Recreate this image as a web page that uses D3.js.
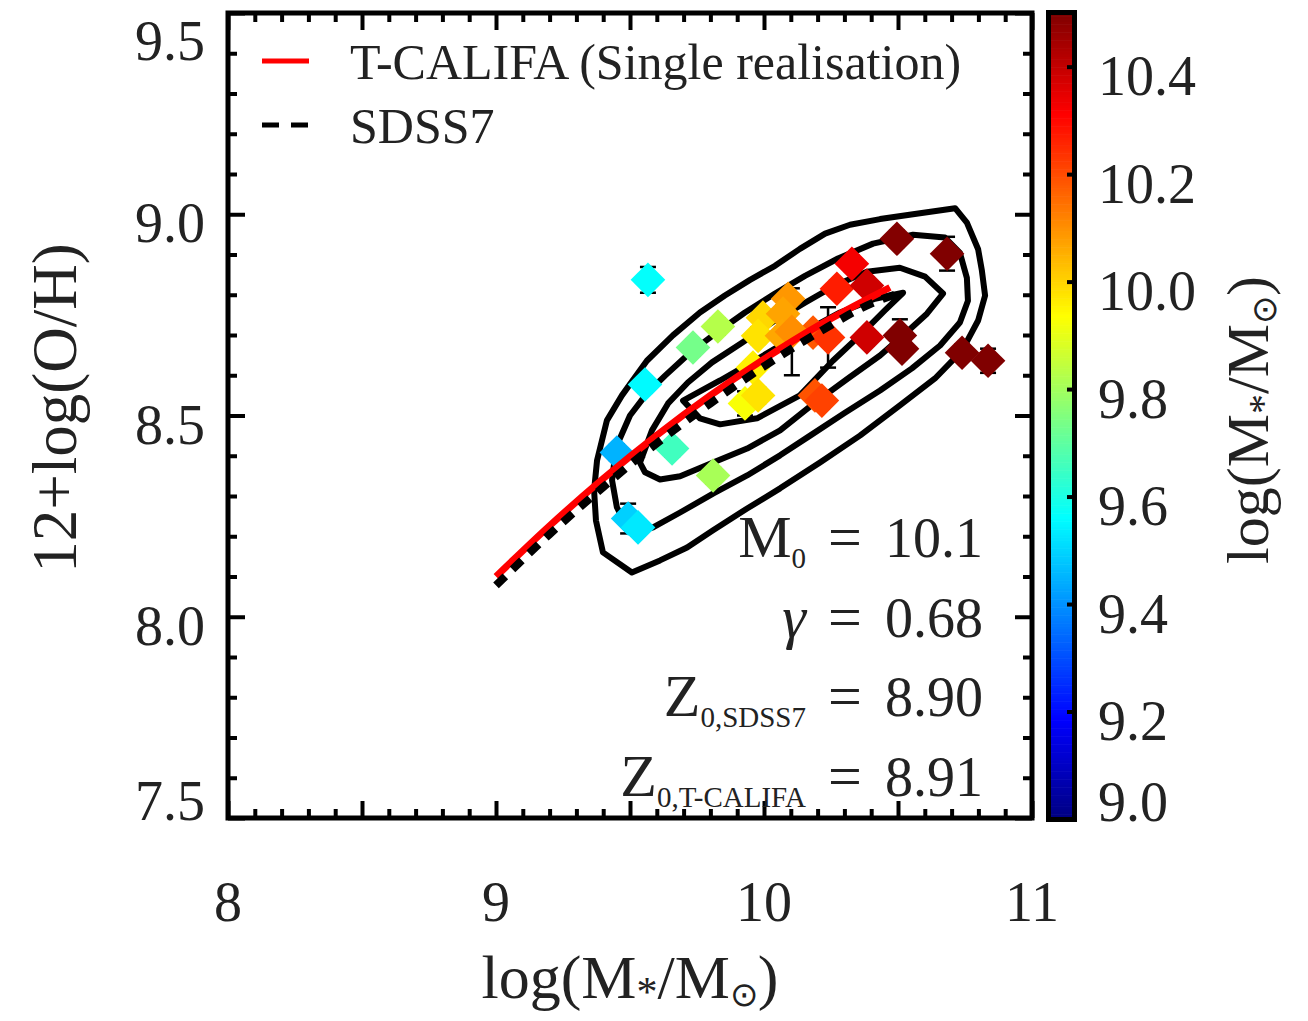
<!DOCTYPE html>
<html>
<head>
<meta charset="utf-8">
<script src="https://cdn.jsdelivr.net/npm/d3@7"></script>
<style>
  body { margin: 0; background: #fff; }
  text { font-family: "Liberation Serif", "Times New Roman", serif; fill: #222; }
</style>
</head>
<body>
<div id="chart"></div>
<script>
// ---- data ----
var logMass = [9.567, 9.556, 9.451, 9.493, 9.530, 9.657, 9.810, 9.735, 9.828, 9.996, 10.090,
               10.071, 9.978, 10.067, 9.959, 9.929, 9.978, 10.190, 10.216, 10.183, 10.239,
               10.104, 10.272, 10.328, 10.384, 10.384, 10.507, 10.515, 10.496, 10.683, 10.739, 10.836];
var logOH   = [8.837, 8.577, 8.408, 8.244, 8.222, 8.418, 8.351, 8.669, 8.721, 8.743, 8.790,
               8.753, 8.698, 8.698, 8.619, 8.530, 8.550, 8.550, 8.537, 8.706, 8.694,
               8.708, 8.815, 8.877, 8.823, 8.694, 8.699, 8.666, 8.939, 8.902, 8.656, 8.636];
var errOH   = [0.032, 0.020, 0.020, 0.037, 0.020, 0.020, 0.020, 0.020, 0.020, 0.020, 0.020,
               0.020, 0.020, 0.020, 0.020, 0.030, 0.020, 0.020, 0.020, 0.020, 0.075,
               0.108, 0.020, 0.020, 0.020, 0.020, 0.040, 0.020, 0.020, 0.042, 0.020, 0.030];

// T-CALIFA fit (single realisation) and SDSS7 fit
var califaX = [9.0, 9.2, 9.4, 9.6, 9.8, 10.0, 10.2, 10.4, 10.47];
var califaY = [8.100, 8.226, 8.343, 8.451, 8.550, 8.640, 8.722, 8.794, 8.818];
var sdssX   = [9.0, 9.2, 9.4, 9.6, 9.8, 10.0, 10.2, 10.4, 10.5];
var sdssY   = [8.078, 8.205, 8.322, 8.431, 8.530, 8.622, 8.705, 8.778, 8.803];

// SDSS7 density contours, [logM, 12+log(O/H)]
var contour1 = [[9.507,8.110],[9.399,8.160],[9.373,8.239],[9.366,8.314],[9.377,8.388],[9.414,8.488],
  [9.470,8.550],[9.563,8.636],[9.660,8.699],[9.761,8.756],[9.854,8.798],[9.948,8.837],[10.041,8.872],
  [10.134,8.914],[10.228,8.952],[10.321,8.974],[10.433,8.988],[10.556,9.000],[10.713,9.015],
  [10.757,8.979],[10.799,8.913],[10.813,8.860],[10.825,8.798],[10.799,8.736],[10.739,8.661],
  [10.638,8.592],[10.507,8.525],[10.358,8.450],[10.209,8.383],[10.060,8.319],[9.937,8.269],
  [9.810,8.215],[9.713,8.172],[9.612,8.140]];
var contour2 = [[9.489,8.222],[9.451,8.272],[9.433,8.339],[9.448,8.421],[9.500,8.500],[9.563,8.555],
  [9.631,8.599],[9.724,8.656],[9.817,8.703],[9.929,8.756],[10.041,8.803],[10.153,8.847],[10.276,8.890],
  [10.407,8.927],[10.556,8.949],[10.675,8.942],[10.731,8.904],[10.757,8.842],[10.761,8.785],
  [10.731,8.731],[10.657,8.674],[10.552,8.617],[10.433,8.562],[10.302,8.507],[10.172,8.450],
  [10.060,8.401],[9.937,8.351],[9.810,8.306],[9.687,8.259],[9.586,8.222],[9.530,8.210]];
var contour3 = [[9.537,8.383],[9.582,8.463],[9.642,8.530],[9.716,8.582],[9.806,8.632],[9.918,8.681],
  [10.030,8.731],[10.153,8.780],[10.265,8.823],[10.384,8.857],[10.507,8.867],[10.601,8.845],
  [10.668,8.803],[10.608,8.753],[10.526,8.703],[10.433,8.649],[10.313,8.592],[10.190,8.532],
  [10.060,8.463],[9.937,8.418],[9.810,8.383],[9.687,8.349],[9.612,8.341],[9.556,8.359]];
var contour4 = [[9.698,8.537],[9.836,8.587],[9.985,8.644],[10.134,8.703],[10.284,8.756],[10.414,8.790],
  [10.519,8.805],[10.451,8.761],[10.358,8.699],[10.257,8.636],[10.134,8.550],[9.974,8.493],
  [9.836,8.478],[9.761,8.493]];

var xLabels  = [8, 9, 10, 11];
var yLabels  = [7.5, 8.0, 8.5, 9.0, 9.5];
var cbLabels = [9.0, 9.2, 9.4, 9.6, 9.8, 10.0, 10.2, 10.4];
var legendNames = ["T-CALIFA (Single realisation)", "SDSS7"];
var fitNames  = ["M", "\u03b3", "Z", "Z"];
var fitSubs   = ["0", "", "0,SDSS7", "0,T-CALIFA"];
var fitValues = ["10.1", "0.68", "8.90", "8.91"];

// ---- layout ----
var width = 1308, height = 1021;
var svg = d3.select("#chart").append("svg")
    .attr("width", width)
    .attr("height", height);

var x = d3.scaleLinear().domain([8, 11]).range([228, 1032]);
var y = d3.scaleLinear().domain([7.5, 9.5]).range([818, 13]);
var cb = d3.scaleLinear().domain([9.0, 10.5]).range([819.5, 13.4]);

// jet colour table
var jet = d3.scaleLinear()
    .domain([0, 0.125, 0.375, 0.625, 0.875, 1])
    .range(["#000080", "#0000ff", "#00ffff", "#ffff00", "#ff0000", "#800000"])
    .clamp(true);
function color(v) { return jet((v - 9.0) / 1.5); }

// ---- contours ----
var contourLine = d3.line()
    .x(function(d) { return x(d[0]); })
    .y(function(d) { return y(d[1]); })
    .curve(d3.curveLinearClosed);

svg.append("g").attr("class", "contours")
  .selectAll("path")
  .data([contour1, contour2, contour3, contour4])
  .enter().append("path")
    .attr("d", contourLine)
    .attr("fill", "none")
    .attr("stroke", "#000")
    .attr("stroke-width", 6)
    .attr("stroke-linejoin", "round");

// ---- galaxies ----
var pts = logMass.map(function(m, i) { return {m: m, z: logOH[i], e: errOH[i]}; });

var errs = svg.append("g").attr("class", "errors")
  .selectAll("g").data(pts).enter().append("g");
errs.append("line")
    .attr("x1", function(d) { return x(d.m); })
    .attr("x2", function(d) { return x(d.m); })
    .attr("y1", function(d) { return y(d.z - d.e); })
    .attr("y2", function(d) { return y(d.z + d.e); });
errs.append("line")
    .attr("x1", function(d) { return x(d.m) - 8; })
    .attr("x2", function(d) { return x(d.m) + 8; })
    .attr("y1", function(d) { return y(d.z - d.e); })
    .attr("y2", function(d) { return y(d.z - d.e); });
errs.append("line")
    .attr("x1", function(d) { return x(d.m) - 8; })
    .attr("x2", function(d) { return x(d.m) + 8; })
    .attr("y1", function(d) { return y(d.z + d.e); })
    .attr("y2", function(d) { return y(d.z + d.e); });
errs.selectAll("line").attr("stroke", "#000").attr("stroke-width", 2.5);

var diamond = d3.symbol().type(d3.symbolSquare).size(600);
svg.append("g").attr("class", "points")
  .selectAll("path").data(pts).enter().append("path")
    .attr("d", diamond)
    .attr("transform", function(d) { return "translate(" + x(d.m) + "," + y(d.z) + ") rotate(45)"; })
    .attr("fill", function(d) { return color(d.m); });

// ---- fits ----
var fitLine = d3.line()
    .x(function(d) { return x(d[0]); })
    .y(function(d) { return y(d[1]); })
    .curve(d3.curveMonotoneX);

svg.append("path")
    .datum(califaX.map(function(v, i) { return [v, califaY[i]]; }))
    .attr("d", fitLine)
    .attr("fill", "none")
    .attr("stroke", "#ff0000")
    .attr("stroke-width", 7);

svg.append("path")
    .datum(sdssX.map(function(v, i) { return [v, sdssY[i]]; }))
    .attr("d", fitLine)
    .attr("fill", "none")
    .attr("stroke", "#000")
    .attr("stroke-width", 8)
    .attr("stroke-dasharray", "13,10");

// ---- axes: ticks on all four sides, pointing in ----
function between(a, b, step) {
  return d3.range(Math.round((b - a) / step) + 1).map(function(i) { return +(a + i * step).toFixed(2); });
}
var xMajor = between(8, 11, 0.5),  xMinor = between(8, 11, 0.1).filter(function(v) { return xMajor.indexOf(v) < 0; });
var yMajor = between(7.5, 9.5, 0.5), yMinor = between(7.5, 9.5, 0.1).filter(function(v) { return yMajor.indexOf(v) < 0; });

function tickSet(axis, scale, vals, len, tx, ty) {
  var g = svg.append("g")
      .attr("transform", "translate(" + tx + "," + ty + ")")
      .call(axis(scale).tickValues(vals).tickSize(-len).tickFormat(""));
  g.select(".domain").remove();
  g.selectAll("line").attr("stroke", "#000").attr("stroke-width", 4);
}
tickSet(d3.axisBottom, x, xMajor, 17, 0, 818);
tickSet(d3.axisBottom, x, xMinor, 9, 0, 818);
tickSet(d3.axisTop, x, xMajor, 17, 0, 13);
tickSet(d3.axisTop, x, xMinor, 9, 0, 13);
tickSet(d3.axisLeft, y, yMajor, 17, 228, 0);
tickSet(d3.axisLeft, y, yMinor, 9, 228, 0);
tickSet(d3.axisRight, y, yMajor, 17, 1032, 0);
tickSet(d3.axisRight, y, yMinor, 9, 1032, 0);

svg.append("rect")
    .attr("x", 228).attr("y", 13)
    .attr("width", 804).attr("height", 805)
    .attr("fill", "none")
    .attr("stroke", "#000")
    .attr("stroke-width", 5);

// tick labels
svg.append("g").selectAll("text").data(xLabels).enter().append("text")
    .attr("x", function(d) { return x(d); })
    .attr("y", 921)
    .attr("text-anchor", "middle")
    .style("font-size", "56px")
    .text(function(d) { return d; });

svg.append("g").selectAll("text").data(yLabels).enter().append("text")
    .attr("x", 205)
    .attr("y", function(d, i) {
      // IDL nudges the end labels inside the axis range
      if (i === 0) return y(d) + 2;
      if (i === yLabels.length - 1) return y(d) + 47;
      return y(d) + 28;
    })
    .attr("text-anchor", "end")
    .style("font-size", "56px")
    .text(function(d) { return d.toFixed(1); });

// axis titles
var xt = svg.append("text")
    .attr("x", 630).attr("y", 998)
    .attr("text-anchor", "middle")
    .style("font-size", "62px");
xt.append("tspan").text("log(M");
xt.append("tspan").attr("dy", 8).style("font-size", "42px").text("*");
xt.append("tspan").attr("dy", -8).text("/M");
xt.append("tspan").attr("dy", 8).style("font-size", "34px").text("\u2299");
xt.append("tspan").attr("dy", -8).text(")");

svg.append("text")
    .attr("transform", "translate(76,408) rotate(-90)")
    .attr("text-anchor", "middle")
    .style("font-size", "63px")
    .text("12+log(O/H)");

// ---- legend ----
svg.append("line")
    .attr("x1", 262).attr("x2", 309).attr("y1", 61).attr("y2", 61)
    .attr("stroke", "#ff0000").attr("stroke-width", 5);
svg.append("line")
    .attr("x1", 262).attr("x2", 309).attr("y1", 125).attr("y2", 125)
    .attr("stroke", "#000").attr("stroke-width", 5)
    .attr("stroke-dasharray", "17,12");
svg.append("g").selectAll("text").data(legendNames).enter().append("text")
    .attr("x", 350)
    .attr("y", function(d, i) { return 79 + i * 64; })
    .style("font-size", "50px")
    .text(function(d) { return d; });

// ---- fit parameters ----
var annY = function(i) { return 557 + i * 79.5; };
var names = svg.append("g").selectAll("text").data(fitNames).enter().append("text")
    .attr("x", 806)
    .attr("y", function(d, i) { return annY(i); })
    .attr("text-anchor", "end")
    .style("font-size", "60px");
names.append("tspan")
    .style("font-style", function(d, i) { return i === 1 ? "italic" : null; })
    .text(function(d) { return d; });
names.append("tspan")
    .attr("dy", function(d, i) { return fitSubs[i] ? 11 : 0; })
    .style("font-size", "29px")
    .text(function(d, i) { return fitSubs[i]; });

svg.append("g").selectAll("text").data(fitValues).enter().append("text")
    .attr("x", 845)
    .attr("y", function(d, i) { return annY(i); })
    .attr("text-anchor", "middle")
    .style("font-size", "60px")
    .text("=");

svg.append("g").selectAll("text").data(fitValues).enter().append("text")
    .attr("x", 983)
    .attr("y", function(d, i) { return annY(i); })
    .attr("text-anchor", "end")
    .style("font-size", "56px")
    .text(function(d) { return d; });

// ---- colour bar ----
var cbStep = 0.005;
svg.append("g").selectAll("rect").data(d3.range(9.0, 10.5, cbStep)).enter().append("rect")
    .attr("x", 1048).attr("width", 27)
    .attr("y", function(d) { return cb(d + cbStep); })
    .attr("height", function(d) { return cb(d) - cb(d + cbStep) + 0.6; })
    .attr("fill", function(d) { return color(d + cbStep / 2); });

svg.append("g").selectAll("line").data(cbLabels).enter().append("line")
    .attr("x1", 1067).attr("x2", 1075)
    .attr("y1", function(d) { return cb(d); })
    .attr("y2", function(d) { return cb(d); })
    .attr("stroke", "#000").attr("stroke-width", 4);

svg.append("rect")
    .attr("x", 1048.5).attr("y", 12.5)
    .attr("width", 26).attr("height", 807)
    .attr("fill", "none")
    .attr("stroke", "#000")
    .attr("stroke-width", 5);

svg.append("g").selectAll("text").data(cbLabels).enter().append("text")
    .attr("x", 1098)
    .attr("y", function(d, i) { return i === 0 ? cb(d) + 1 : cb(d) + 28; })
    .style("font-size", "56px")
    .text(function(d) { return d.toFixed(1); });

var ct = svg.append("text")
    .attr("transform", "translate(1268,420) rotate(-90)")
    .attr("text-anchor", "middle")
    .style("font-size", "60px");
ct.append("tspan").text("log(M");
ct.append("tspan").attr("dy", 8).style("font-size", "40px").text("*");
ct.append("tspan").attr("dy", -8).text("/M");
ct.append("tspan").attr("dy", 8).style("font-size", "34px").text("\u2299");
ct.append("tspan").attr("dy", -8).text(")");
</script>
</body>
</html>
